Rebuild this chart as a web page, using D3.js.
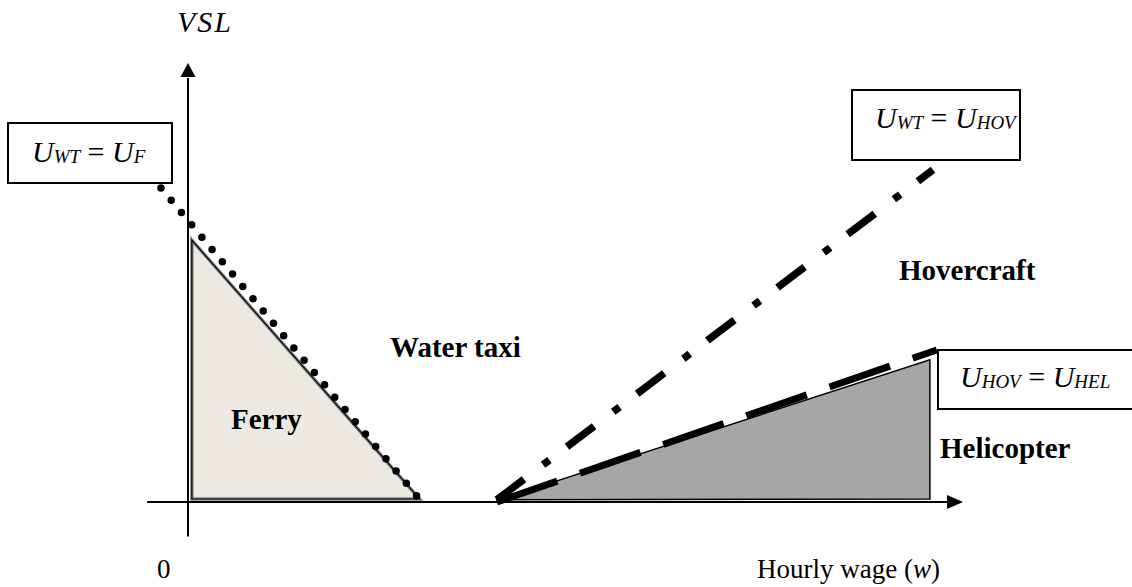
<!DOCTYPE html>
<html>
<head>
<meta charset="utf-8">
<script src="https://cdn.jsdelivr.net/npm/d3@7"></script>
<style>
  body { margin: 0; background: #fff; }
  svg { display: block; }
  text { font-family: "Liberation Serif", "Times New Roman", serif; fill: #000; }
  .bold { font-weight: bold; font-size: 29px; }
  .box { fill: #fff; stroke: #000; stroke-width: 2; }
</style>
</head>
<body>
<div class="graph"></div>
<script>
// regions and curves in (wage, VSL) units
var ferryRegion = [[0.05, 6.06], [0.05, 0.07], [3.0, 0.07]];
var heliRegion = [[4.02, 0.05], [9.61, 3.29], [9.61, 0.07]];
var curveWTF = [[-0.35, 7.27], [3.02, 0.02]];
var curveHovHel = [[4.0, 0.0], [9.70, 3.52]];
var curveWTHov = [[4.0, 0.05], [9.65, 7.69]];
var xAxisRange = [-0.53, 10];
var yAxisRange = [-0.8, 10];

var graphSize = { width: 1132, height: 587 };

var svg = d3.select('.graph').append('svg')
  .attr('width', graphSize.width)
  .attr('height', graphSize.height);

var xScale = d3.scaleLinear().domain([0, 10]).range([188, 960]);
var yScale = d3.scaleLinear().domain([0, 10]).range([502, 70]);

var line = d3.line()
  .x(function(d) { return xScale(d[0]); })
  .y(function(d) { return yScale(d[1]); });

// shaded regions
svg.append('path')
  .attr('d', line(ferryRegion) + 'Z')
  .attr('fill', '#ECEAE0')
  .attr('stroke', '#8a8a8a')
  .attr('stroke-width', 3.5);
svg.append('path')
  .attr('d', line(ferryRegion) + 'Z')
  .attr('fill', 'none')
  .attr('stroke', '#000')
  .attr('stroke-width', 1.2);

svg.append('path')
  .attr('d', line(heliRegion) + 'Z')
  .attr('fill', '#A6A6A6')
  .attr('stroke', '#000')
  .attr('stroke-width', 1.5);

// axes
svg.append('line')
  .attr('x1', xScale(xAxisRange[0])).attr('x2', xScale(xAxisRange[1]) - 12)
  .attr('y1', yScale(0)).attr('y2', yScale(0))
  .attr('stroke', '#000').attr('stroke-width', 2);
svg.append('line')
  .attr('x1', xScale(0)).attr('x2', xScale(0))
  .attr('y1', yScale(yAxisRange[0])).attr('y2', yScale(yAxisRange[1]) + 8)
  .attr('stroke', '#000').attr('stroke-width', 2);

var xe = xScale(xAxisRange[1]), y0 = yScale(0);
svg.append('path')
  .attr('d', 'M' + (xe + 3) + ',' + y0 + 'L' + (xe - 13) + ',' + (y0 - 7) + 'L' + (xe - 13) + ',' + (y0 + 7) + 'Z')
  .attr('fill', '#000');
var x0 = xScale(0), ye = yScale(yAxisRange[1]);
svg.append('path')
  .attr('d', 'M' + x0 + ',' + (ye - 7) + 'L' + (x0 - 7.5) + ',' + (ye + 7) + 'L' + (x0 + 7.5) + ',' + (ye + 7) + 'Z')
  .attr('fill', '#000');

// indifference lines
svg.append('path')
  .attr('d', line(curveWTF))
  .attr('fill', 'none')
  .attr('stroke', '#000')
  .attr('stroke-width', 7.5)
  .attr('stroke-linecap', 'round')
  .attr('stroke-dasharray', '0 16');

svg.append('path')
  .attr('d', line(curveHovHel))
  .attr('fill', 'none')
  .attr('stroke', '#000')
  .attr('stroke-width', 7)
  .attr('stroke-dasharray', '64 24');

svg.append('path')
  .attr('d', line(curveWTHov))
  .attr('fill', 'none')
  .attr('stroke', '#000')
  .attr('stroke-width', 7.5)
  .attr('stroke-dasharray', '34 24 8 22');

// label boxes
function eqBox(x, y, w, h, tx, ty, a, b) {
  svg.append('rect').attr('class', 'box')
    .attr('x', x).attr('y', y).attr('width', w).attr('height', h);
  var t = svg.append('text').attr('x', tx).attr('y', ty)
    .style('font-style', 'italic').style('font-size', '30px');
  t.append('tspan').text('U');
  t.append('tspan').style('font-size', '19px').attr('dy', 1).text(a);
  t.append('tspan').style('font-style', 'normal').attr('dy', -1).text(' = ');
  t.append('tspan').text('U');
  t.append('tspan').style('font-size', '19px').attr('dy', 1).text(b);
}
eqBox(8, 123, 164, 60, 32, 162, 'WT', 'F');
eqBox(852, 90, 168, 70, 875, 128, 'WT', 'HOV');
eqBox(938, 350, 200, 59, 960, 387, 'HOV', 'HEL');

// region names
svg.append('text').attr('class', 'bold').attr('x', 390).attr('y', 357).text('Water taxi');
svg.append('text').attr('class', 'bold').attr('x', 231).attr('y', 429).text('Ferry');
svg.append('text').attr('class', 'bold').attr('x', 899).attr('y', 280).text('Hovercraft');
svg.append('text').attr('class', 'bold').attr('x', 940).attr('y', 458).text('Helicopter');

// axis titles
svg.append('text').attr('x', 177).attr('y', 32)
  .style('font-style', 'italic').style('font-size', '30px')
  .style('letter-spacing', '2px').text('VSL');
svg.append('text').attr('x', 157).attr('y', 578).style('font-size', '27px').text('0');
var xt = svg.append('text').attr('x', 757).attr('y', 578).style('font-size', '27px');
xt.append('tspan').text('Hourly wage (');
xt.append('tspan').style('font-style', 'italic').text('w');
xt.append('tspan').text(')');
</script>
</body>
</html>
